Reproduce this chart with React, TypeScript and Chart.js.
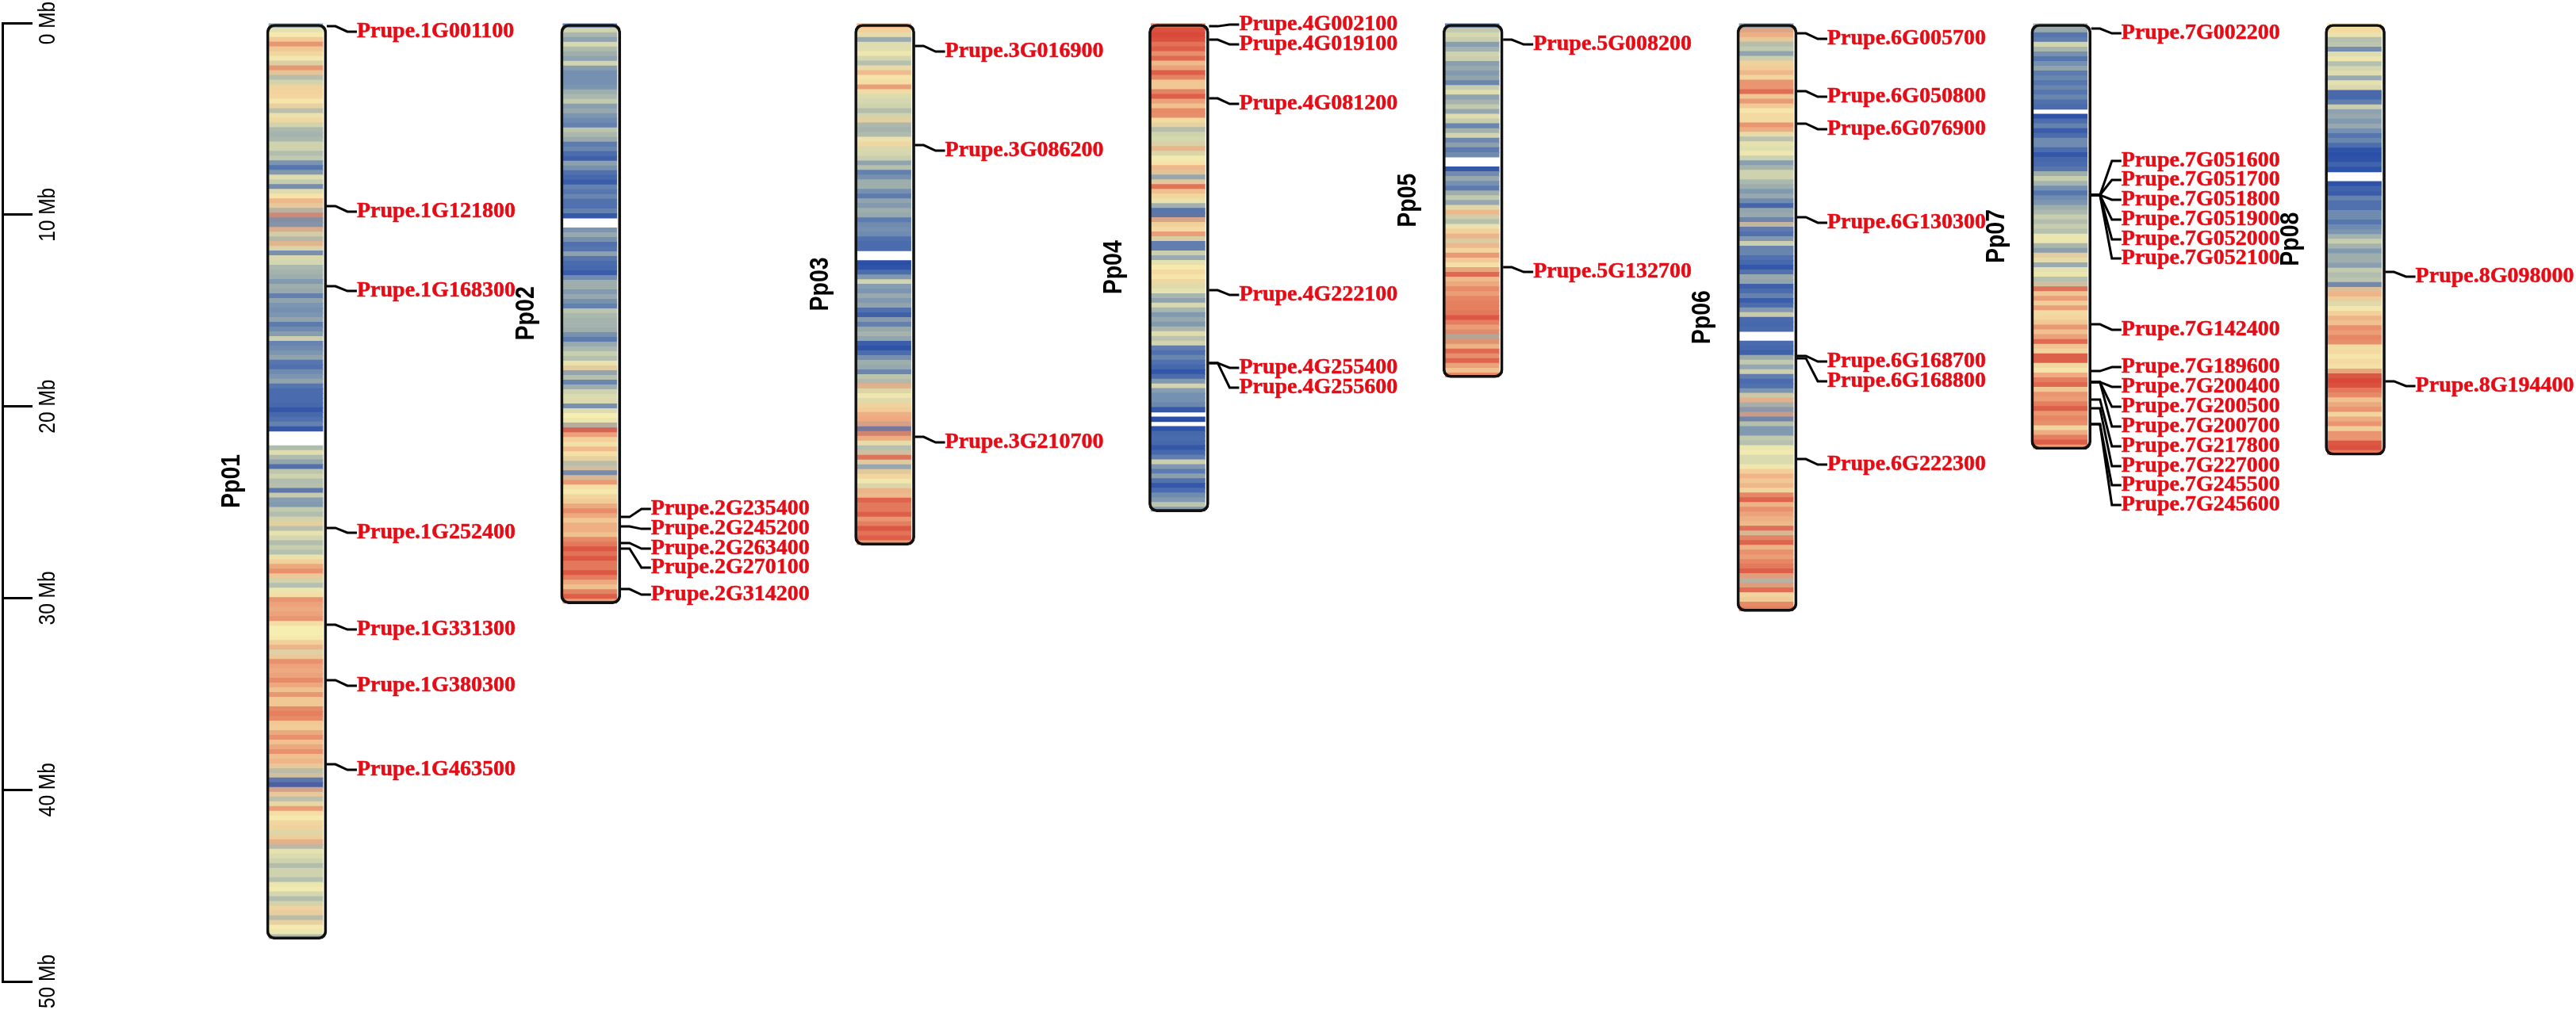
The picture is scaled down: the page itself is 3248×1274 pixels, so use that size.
import React, { useEffect, useRef } from "react";
import { Chart, registerables } from "chart.js";

Chart.register(...registerables);

const chromNames = ["Pp01", "Pp02", "Pp03", "Pp04", "Pp05", "Pp06", "Pp07", "Pp08"];
const chromLengthMb = [47.8, 30.3, 27.25, 25.5, 18.5, 30.7, 22.25, 22.55];
const tickMb = [0, 10, 20, 30, 40, 50];

// Gene density class per equal-size bin, top to bottom (null = no data, white gap)
const _ = null;
const pp01 = [2,5,5,6,8,6,6,5,4,8,6,3,4,6,6,6,5,6,3,5,6,4,3,3,3,4,4,3,4,2,1,2,5,4,1,5,5,7,6,3,8,2,2,7,4,3,7,5,1,5,4,3,3,3,2,3,3,1,3,2,2,2,3,1,2,
  2,5,1,2,2,3,1,1,2,2,3,1,1,1,1,1,0,1,1,2,0,_,_,_,3,5,3,3,0,4,4,3,4,0,5,2,2,4,3,4,6,3,5,4,3,4,3,5,6,7,8,6,4,3,5,5,8,7,7,7,8,5,5,5,5,6,7,
  4,6,8,7,7,7,8,7,6,8,6,6,8,8,8,6,6,7,8,6,7,8,6,7,6,3,6,1,0,7,6,3,5,8,5,5,6,6,4,6,7,3,5,4,4,3,4,4,3,5,5,4,3,4,6,6,3,6,5,5,3];
const pp02 = [1,5,3,2,5,3,3,2,5,2,2,2,2,2,3,3,4,2,3,2,2,1,4,3,3,1,2,1,0,3,2,1,1,0,2,1,2,1,1,2,0,_,_,2,3,2,1,1,3,1,1,1,0,2,3,3,2,3,2,1,4,3,3,3,3,
  2,1,3,3,4,3,5,6,2,4,1,3,4,4,5,1,5,5,5,3,9,7,6,5,7,5,6,3,6,1,6,8,5,5,6,6,7,8,7,6,7,7,6,8,8,9,8,9,8,8,9,8,7,6,8,9,7];
const pp03 = [7,6,5,2,5,4,5,4,3,5,7,5,5,8,5,4,4,4,3,4,6,3,3,3,5,6,4,4,4,2,4,1,2,3,3,2,1,3,2,3,3,1,2,2,2,1,1,1,_,_,0,0,1,2,5,2,2,3,2,3,1,0,3,1,3,
  3,3,0,0,1,2,3,3,1,4,3,7,4,5,4,6,6,7,7,7,1,8,7,5,3,4,9,5,2,6,6,5,4,7,6,9,8,8,9,7,8,9,8,9,7];
const pp04 = [8,9,9,9,8,9,7,9,6,7,9,8,6,6,8,9,7,6,8,8,5,6,3,4,4,4,7,4,5,5,7,6,2,5,9,6,6,5,3,1,1,7,6,5,8,5,1,1,5,2,5,5,6,5,6,4,5,3,2,5,3,2,3,2,3,
  5,3,5,1,1,2,1,1,0,1,2,5,2,2,2,2,0,_,0,_,0,1,1,1,0,1,1,5,2,1,3,1,0,1,2,2,4,2];
const pp05 = [1,4,4,4,2,3,4,4,2,3,2,3,1,4,5,2,3,4,2,5,4,1,3,5,1,3,1,2,_,_,0,2,3,2,1,3,4,2,5,7,4,3,5,6,7,4,7,5,8,6,5,7,9,6,7,8,7,8,8,8,8,9,8,7,8,
  3,8,6,9,7,9,7,6,8];
const pp06 = [2,7,7,6,3,4,2,4,6,6,7,5,8,7,9,5,8,6,5,6,5,8,7,5,3,5,4,5,4,2,3,4,4,3,3,2,3,2,0,3,3,1,6,1,1,2,5,1,2,1,1,0,1,3,3,0,1,2,0,1,2,5,0,1,1,
  _,_,1,1,0,3,4,2,5,1,1,1,2,4,7,3,2,7,1,4,2,2,4,3,5,5,4,4,5,6,7,6,7,5,8,9,6,8,7,7,6,9,4,8,9,6,8,7,8,8,9,7,3,7,9,5,6,8,8];
const pp07 = [3,3,1,1,5,3,2,1,2,3,1,2,1,2,1,2,1,1,_,0,1,2,0,1,2,2,1,0,1,1,1,3,4,3,2,1,2,2,3,3,4,3,4,3,5,5,3,2,6,5,2,5,5,3,4,9,5,8,5,8,5,6,6,8,6,7,9,6,5,9,9,5,5,7,8,9,5,8,7,8,9,7,8,8,5,7,8,9,7];
const pp08 = [5,6,5,3,4,1,5,5,3,4,5,2,5,5,0,1,1,5,2,3,2,3,2,1,2,1,0,0,0,1,0,_,_,0,1,0,2,1,1,2,2,1,2,2,3,4,3,2,3,3,2,4,3,4,1,6,7,6,4,5,6,7,6,8,7,8,8,5,6,5,6,5,7,9,9,9,8,8,6,7,8,5,7,8,5,8,7,9,9,8];
const densityBins = [pp01, pp02, pp03, pp04, pp05, pp06, pp07, pp08];

// Genes: start position on the chromosome and the position of its label, both in Mb
const geneNames = [
  "Prupe.1G001100","Prupe.1G121800","Prupe.1G168300","Prupe.1G252400","Prupe.1G331300","Prupe.1G380300","Prupe.1G463500",
  "Prupe.2G235400","Prupe.2G245200","Prupe.2G263400","Prupe.2G270100","Prupe.2G314200",
  "Prupe.3G016900","Prupe.3G086200","Prupe.3G210700",
  "Prupe.4G002100","Prupe.4G019100","Prupe.4G081200","Prupe.4G222100","Prupe.4G255400","Prupe.4G255600",
  "Prupe.5G008200","Prupe.5G132700",
  "Prupe.6G005700","Prupe.6G050800","Prupe.6G076900","Prupe.6G130300","Prupe.6G168700","Prupe.6G168800","Prupe.6G222300",
  "Prupe.7G002200","Prupe.7G051600","Prupe.7G051700","Prupe.7G051800","Prupe.7G051900","Prupe.7G052000","Prupe.7G052100",
  "Prupe.7G142400","Prupe.7G189600","Prupe.7G200400","Prupe.7G200500","Prupe.7G200700","Prupe.7G217800","Prupe.7G227000","Prupe.7G245500","Prupe.7G245600",
  "Prupe.8G098000","Prupe.8G194400",
];
const geneMb = [
  0.17,9.55,13.73,26.34,31.39,34.28,38.67,
  25.77,26.26,27.13,27.42,29.53,
  1.2,6.37,21.59,
  0.17,0.87,3.93,13.94,17.74,17.74,
  0.87,12.74,
  0.54,3.56,5.25,10.13,17.37,17.49,22.75,
  0.29,8.97,8.97,8.97,8.97,8.97,8.97,
  15.72,18.16,18.73,18.73,18.73,19.64,20.1,20.93,20.93,
  12.99,18.69,
];
const labelMb = [
  0.45,9.84,13.98,26.59,31.64,34.57,38.96,
  25.35,26.39,27.42,28.41,29.82,
  1.49,6.66,21.88,
  0.08,1.12,4.22,14.19,17.99,19.02,
  1.12,12.99,
  0.83,3.85,5.54,10.42,17.66,18.69,23.04,
  0.54,7.2,8.19,9.22,10.26,11.29,12.28,
  16.0,17.95,18.98,20.02,21.05,22.08,23.12,24.11,25.14,
  13.23,18.94,
];

const levelRGB = [
  [43, 79, 168], [74, 108, 174], [117, 144, 176], [164, 179, 173], [213, 216, 174],
  [246, 237, 176], [243, 210, 155], [237, 169, 127], [229, 128, 95], [217, 73, 58],
];
const RED = "#e60c16";
const PITCH = 370.8; // px between chromosome centres
const AXIS_X = 3;
const FIRST_CENTRE = 374;
const WIDTH = 3248;
const HEIGHT = 1274;

// Soft colour edge between neighbouring bins, like the slightly blurred original
function binColor(bins: (number | null)[], k: number) {
  const self = levelRGB[bins[k] as number];
  const prev = bins[k - 1] == null ? self : levelRGB[bins[k - 1] as number];
  const next = bins[k + 1] == null ? self : levelRGB[bins[k + 1] as number];
  const c = self.map((v, n) => Math.round(v * 0.72 + prev[n] * 0.14 + next[n] * 0.14));
  return `rgb(${c[0]},${c[1]},${c[2]})`;
}

function buildBands() {
  const data: any[] = [];
  const colors: string[] = [];
  densityBins.forEach((bins, i) => {
    const size = chromLengthMb[i] / bins.length;
    bins.forEach((lvl, k) => {
      if (lvl === null) return;
      const start = k * size;
      const end = Math.min((k + 1) * size + (bins[k + 1] !== null ? size * 0.1 : 0), chromLengthMb[i]);
      data.push({ x: i - 1 / PITCH, y: [Math.max(start, 0.03), Math.min(end, chromLengthMb[i] - 0.03)] });
      colors.push(binColor(bins, k));
    });
  });
  return { data, colors };
}

function connector(i: number, from: number, to: number) {
  const edge = 38 / PITCH;
  return [
    { x: i + edge, y: from },
    { x: i + edge + 11 / PITCH, y: from },
    { x: i + edge + 26 / PITCH, y: to },
    { x: i + edge + 38 / PITCH, y: to },
  ];
}

const chromOf = (name: string) => Number(name.charAt(6)) - 1;

const textPlugin = {
  id: "chromText",
  afterDatasetsDraw(chart: any) {
    const { ctx, scales } = chart;
    ctx.save();
    ctx.fillStyle = RED;
    ctx.strokeStyle = RED;
    ctx.lineWidth = 0.5;
    ctx.font = 'bold 28px "Liberation Serif"';
    ctx.textAlign = "left";
    ctx.textBaseline = "alphabetic";
    geneNames.forEach((name, g) => {
      const x = scales.x.getPixelForValue(chromOf(name)) + 76;
      const y = scales.y.getPixelForValue(labelMb[g]) + 7;
      ctx.fillText(name, x, y);
      ctx.strokeText(name, x, y);
    });
    ctx.fillStyle = "#000";
    ctx.font = 'bold 28.5px "Liberation Sans"';
    ctx.textAlign = "center";
    chromNames.forEach((name, i) => {
      const x = scales.x.getPixelForValue(i) - 72;
      const y = scales.y.getPixelForValue(chromLengthMb[i] / 2);
      ctx.save();
      ctx.translate(x, y);
      ctx.rotate(-Math.PI / 2);
      ctx.scale(1, 1.15);
      ctx.fillText(name, 0, 0);
      ctx.restore();
    });
    ctx.font = '24.5px "Liberation Sans"';
    tickMb.forEach((mb) => {
      ctx.save();
      ctx.translate(69, scales.y.getPixelForValue(mb));
      ctx.rotate(-Math.PI / 2);
      ctx.scale(1, 1.18);
      ctx.fillText(`${mb} Mb`, 0, 0);
      ctx.restore();
    });
    ctx.restore();
  },
};

export default function App() {
  const ref = useRef<HTMLCanvasElement | null>(null);
  useEffect(() => {
    const bands = buildBands();
    const datasets: any[] = [
      {
        type: "bar",
        label: "density",
        data: bands.data,
        backgroundColor: bands.colors,
        barThickness: 68,
        grouped: false,
        order: 3,
      },
      {
        type: "bar",
        label: "chromosome",
        data: chromLengthMb.map((len, i) => ({ x: i, y: [0, len] })),
        backgroundColor: "rgba(0,0,0,0)",
        borderColor: "#111",
        borderWidth: 3,
        borderRadius: 10,
        borderSkipped: false,
        barThickness: 76,
        grouped: false,
        order: 2,
      },
      ...geneNames.map((name, g) => ({
        type: "line",
        label: name,
        data: connector(chromOf(name), geneMb[g], labelMb[g]),
        borderColor: "#000",
        borderWidth: 3,
        pointRadius: 0,
        tension: 0,
        order: 1,
      })),
    ];
    const chart = new Chart(ref.current as HTMLCanvasElement, {
      type: "bar",
      data: { datasets },
      plugins: [textPlugin],
      options: {
        animation: false,
        responsive: false,
        devicePixelRatio: 1,
        layout: { padding: { left: AXIS_X, right: 0, top: 29, bottom: 36 } },
        plugins: { legend: { display: false }, tooltip: { enabled: false } },
        scales: {
          x: {
            type: "linear",
            display: false,
            offset: false,
            min: (AXIS_X - FIRST_CENTRE) / PITCH,
            max: (WIDTH - FIRST_CENTRE) / PITCH,
          },
          y: {
            type: "linear",
            position: "left",
            reverse: true,
            min: tickMb[0],
            max: tickMb[tickMb.length - 1],
            afterFit: (s: any) => { s.width = 0; },
            border: { display: true, color: "#000", width: 3 },
            grid: { drawOnChartArea: false, drawTicks: true, tickLength: -38, color: "#000", lineWidth: 3 },
            ticks: { display: false, stepSize: 10 },
          },
        },
      } as any,
    });
    return () => chart.destroy();
  }, []);
  return (
    <canvas
      ref={ref}
      width={WIDTH}
      height={HEIGHT}
      style={{ position: "absolute", left: 0, top: 0, width: WIDTH, height: HEIGHT, display: "block" }}
    />
  );
}
